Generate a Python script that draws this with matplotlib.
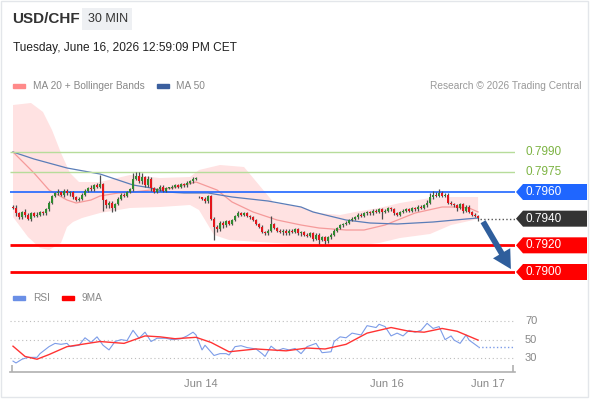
import numpy as np
import matplotlib.pyplot as plt
import matplotlib.transforms as mtransforms
from matplotlib.patches import Polygon, Rectangle

plt.rcParams['font.family'] = ['Liberation Sans', 'DejaVu Sans']

# prices are kept in pips above BASE
BASE = 0.7900
PIP = 0.0001

# 30 min candles, close of each bar (pips), open = previous close
first_open = 49
closes = [48,
          44, 41, 45, 43, 40, 44, 42,
          43, 45, 44, 47,
          52, 57,
          59, 60, 58, 61, 59, 60,
          56, 54, 55,
          58, 61,
          63, 62, 65, 64, 66,
          54, 50, 52, 48, 51,
          55, 58, 57, 60, 62,
          70, 72, 68, 71, 65, 70, 63,
          60, 62, 64, 61, 63,
          63, 64, 65, 64, 66, 65, 67, 68, 70, 70.5,
          56, 55, 53,
          57, 40,
          34, 32, 37,
          35, 38, 36, 39,
          42, 44, 43, 44, 42, 41, 39,
          36, 34, 30, 29,
          31, 36, 33, 31,
          30, 31, 29, 31, 30, 32, 29, 30, 28,
          27, 29, 25, 28, 24, 26, 23, 26,
          28, 31, 33, 35, 36,
          37, 39, 40, 41, 43, 42, 44, 45, 44,
          46, 45, 47, 45, 46,
          48, 47,
          44, 43, 45,
          46, 47, 46, 48, 47, 49, 48, 50, 52,
          56, 58, 57, 59, 57, 58,
          52, 51,
          50, 48, 51, 46, 49,
          45, 43, 42,
          40.5]
# weekend gap: the sunday bar opens away from friday's close
gap_opens = {62: 56.5}
wick_up = [1, 2, 1, 1, 2, 1, 1, 1, 2, 1, 1, 1,
           1, 1, 1, 2, 1, 1, 1, 1, 1, 1, 1, 1, 1,
           1, 2, 1, 2, 7, 1, 1, 1, 1, 1, 1, 1, 1, 1, 1,
           4, 3, 3, 3, 1, 2, 1, 1, 1, 1, 1, 1,
           1, 1, 1, 1, 1, 1, 1, 1, 1, 1,
           0.5, 0.5, 1, 1, 1,
           1, 1, 1, 1, 1, 1, 1, 1, 2, 1, 1, 1, 1, 1,
           1, 1, 1, 1, 1, 6, 1, 1, 1, 1, 1, 1, 1, 1, 1, 1, 1,
           1, 1, 1, 1, 1, 1, 1, 1, 1, 1, 1, 1, 1,
           1, 1, 1, 1, 1, 1, 1, 1, 1, 1, 1, 1, 1, 1, 1, 1, 1, 1, 1,
           1, 1, 1, 1, 1, 1, 1, 1, 2, 3, 3, 2, 3, 2, 1, 1, 1,
           1, 1, 1, 1, 1, 1, 1, 1, 1]
wick_dn = [1, 2, 1, 1, 2, 1, 2, 1, 1, 1, 1, 1,
           1, 1, 1, 1, 1, 2, 1, 2, 1, 1, 1, 1, 1,
           1, 1, 1, 1, 1, 8, 2, 2, 3, 2, 1, 1, 1, 1, 1,
           1, 1, 1, 2, 1, 1, 2, 1, 1, 1, 1, 1,
           1, 1, 1, 1, 1, 1, 1, 1, 1, 1,
           0.5, 1, 1, 1, 1,
           10, 2, 1, 2, 1, 1, 1, 1, 1, 1, 1, 1, 1, 1,
           1, 1, 1, 1, 1, 1, 1, 1, 1, 2, 1, 1, 1, 1, 1, 2, 1,
           1, 1, 2, 1, 3, 1, 2, 1, 1, 1, 1, 1, 1,
           1, 1, 1, 1, 1, 1, 1, 1, 1, 1, 1, 1, 5, 1, 1, 1, 1, 1, 1,
           1, 1, 1, 1, 1, 1, 1, 1, 1, 1, 1, 1, 1, 1, 1, 1, 1,
           1, 2, 1, 2, 1, 1, 1, 1, 2]

# indicators (bar index, pips)
ma20_idx = [0, 7, 12, 18, 21, 26, 29, 35, 40, 46, 53, 61, 68, 73, 80, 88, 96, 102, 111, 117, 124, 134, 143, 147, 152, 155]
ma20 = [90, 74.25, 61.5, 54, 51.75, 54, 57, 59.25, 60, 61.5, 63, 67.5, 61.5, 52.5, 45, 39, 35.25, 33, 31.5, 31.5, 35.25, 44.25, 48.75, 48.75, 48, 45]
ma50_idx = [0, 7, 18, 29, 35, 40, 46, 51, 57, 65, 73, 85, 96, 100, 111, 119, 128, 140, 151, 155]
ma50 = [90, 84.75, 78, 73.5, 69, 65.25, 63, 60, 59.25, 59.25, 56.25, 53.25, 48.75, 45, 39, 36.75, 36, 37.5, 39.75, 40.5]
bb_up_idx = [0, 6, 10, 13, 16, 19, 22, 29, 39, 49, 59, 62, 69, 77, 82, 87, 96, 102, 109, 114, 122, 129, 139, 146, 155]
bb_up = [125.25, 126.75, 120, 106.5, 89.25, 74.25, 67.5, 67.5, 72.75, 70.5, 71.25, 76.5, 80.25, 78.75, 65.25, 51.75, 48.75, 44.25, 42.75, 45, 48, 51.75, 55.5, 56.25, 56.25]
bb_lo_idx = [0, 5, 9, 12, 16, 18, 20, 23, 29, 39, 49, 59, 62, 67, 72, 82, 96, 106, 116, 122, 129, 139, 146, 155]
bb_lo = [41.25, 26.25, 18, 16.5, 21.75, 33.75, 37.5, 40.5, 44.25, 48, 48.75, 50.25, 46.5, 27.75, 24, 22.5, 20.5, 19, 20.25, 21.75, 25.5, 28.5, 35.25, 39.75]

rsi_idx = [0, 1, 3, 5, 8, 9, 12, 14, 16, 18, 19, 22, 24, 26, 28, 30, 32, 34, 36, 38,
           40, 42, 44, 46, 48, 51, 53, 56, 58, 60, 61, 63, 64, 67, 69, 71, 72, 74, 76, 78,
           81, 83, 84, 86, 88, 90, 92, 94, 96, 98, 101, 103, 106, 107, 109, 111, 113, 116, 118, 121,
           122, 124, 126, 128, 130, 132, 134, 136, 138, 140, 142, 144, 146, 147, 149, 151, 152, 155]
rsi = [27, 25, 29, 31, 31, 35, 42.5, 46, 45, 46, 42.5, 44, 52, 47, 53, 44, 39, 48, 50, 49,
       60, 51.5, 58, 48, 51.5, 51.5, 50, 51, 54, 58, 55, 39, 44, 33, 35, 35, 33.5, 42.5, 43.5, 41.5,
       40, 35, 32, 43, 38, 40.5, 39, 40.5, 35, 42.5, 46, 36, 37, 48, 53, 52, 57, 55, 65, 63,
       66.5, 64, 54, 57, 54, 60, 58, 60, 67.5, 62, 64, 50, 54, 49.5, 46, 55, 49.5, 42.5]
ma9_idx = [0, 4, 8, 12, 18, 23, 29, 37, 44, 49, 54, 61, 66, 72, 81, 91, 98, 104, 111, 118, 126, 132, 137, 143, 148, 155]
ma9 = [43, 32, 29, 34, 42.5, 45, 48, 46, 54, 53, 51, 52.5, 47, 37, 40, 38, 41, 40, 45, 57, 63, 59, 58, 62, 59, 49.5]
rsi_levels = [70, 50, 30]

levels = [0.7990, 0.7975, 0.7960, 0.7940, 0.7920, 0.7900]
level_roles = ['res', 'res', 'pivot', 'last', 'sup', 'sup']
target = 0.7900

tick_pos = [62.7, 124.7, 158.3]
tick_labels = ['Jun 14', 'Jun 16', 'Jun 17']

GREEN = '#2f8a2f'
RED = '#e3161b'
role_style = {
    'res': dict(color='#b7dc9a', lw=1.0, ls='-', text='#7cb342', box=None),
    'pivot': dict(color='#1f66ff', lw=1.2, ls='-', text='white', box='#1f66ff'),
    'last': dict(color='#555555', lw=1.0, ls=':', text='white', box='#333333'),
    'sup': dict(color='#ff0000', lw=2.0, ls='-', text='white', box='#ff0000'),
}

W, H = 590, 400


def fx(px):
    return px / W


def fy(py):
    return 1 - py / H


fig = plt.figure(figsize=(W / 100, H / 100), dpi=100)
fig.patches.append(Rectangle((fx(1), fy(397)), fx(587), 396 / H, transform=fig.transFigure,
                             facecolor='white', edgecolor='#e3e6ea', lw=1, zorder=-5))

# header
fig.text(fx(12), fy(19), 'USD/CHF', fontsize=11, weight='bold', color='#333333', va='center')
fig.patches.append(Rectangle((fx(82), fy(30)), fx(50), 22 / H, transform=fig.transFigure,
                             facecolor='#eef0f3', edgecolor='none'))
fig.text(fx(88), fy(19), '30 MIN', fontsize=9, color='#333333', va='center')
fig.text(fx(13), fy(48), 'Tuesday, June 16, 2026 12:59:09 PM CET', fontsize=8.6, color='#222222', va='center')

# legends
fig.patches.append(Rectangle((fx(13), fy(88)), fx(12), 4 / H, transform=fig.transFigure, color='#ff8a8a'))
fig.text(fx(33), fy(86), 'MA 20 + Bollinger Bands', fontsize=7.3, color='#888888', va='center')
fig.patches.append(Rectangle((fx(157), fy(88)), fx(12), 4 / H, transform=fig.transFigure, color='#3b5f9e'))
fig.text(fx(176), fy(86), 'MA 50', fontsize=7.3, color='#888888', va='center')
fig.text(fx(581), fy(86), 'Research \u00a9 2026 Trading Central', fontsize=7.3, color='#999999',
         va='center', ha='right')
fig.patches.append(Rectangle((fx(13), fy(300)), fx(12), 4 / H, transform=fig.transFigure, color='#6a8fe6'))
fig.text(fx(33), fy(298), 'RSI', fontsize=7.3, color='#888888', va='center')
fig.patches.append(Rectangle((fx(62), fy(300)), fx(12), 4 / H, transform=fig.transFigure, color='#ff0000'))
fig.text(fx(82), fy(298), '9MA', fontsize=7.3, color='#888888', va='center')

# ---- price panel
ax = fig.add_axes([fx(10), fy(285), fx(505), 190 / H])
xmax = 167.3
ax.set_xlim(-1, xmax)
ax.set_ylim(BASE - 9.75 * PIP, BASE + 132.75 * PIP)
ax.axis('off')


def px_price(p):
    return BASE + np.asarray(p, dtype=float) * PIP


ax.fill(np.r_[bb_up_idx, bb_lo_idx[::-1]], px_price(np.r_[bb_up, bb_lo[::-1]]),
        color='#ffe2e2', lw=0, zorder=1)
ax.plot(ma20_idx, px_price(ma20), color='#f59a9a', lw=0.9, zorder=2)
ax.plot(ma50_idx, px_price(ma50), color='#5a7db8', lw=0.9, zorder=2)

n = len(closes)
idx = np.arange(n)
c = np.array(closes, dtype=float)
o = np.r_[first_open, c[:-1]]
for k, v in gap_opens.items():
    o[k] = v
hi = np.maximum(o, c) + np.array(wick_up)
lo = np.minimum(o, c) - np.array(wick_dn)
body_lo = np.minimum(o, c)
body_h = np.maximum(np.abs(c - o), 0.6)
colors = np.where(c >= o, GREEN, RED)
ax.vlines(idx, px_price(lo), px_price(hi), color='#4d4d4d', lw=0.9, zorder=4)
ax.bar(idx, body_h * PIP, bottom=px_price(body_lo), width=0.85, color=colors, lw=0, zorder=5)

trans = mtransforms.blended_transform_factory(fig.transFigure, ax.transData)
half = 8 * (ax.get_ylim()[1] - ax.get_ylim()[0]) / 190
for lev, role in zip(levels, level_roles):
    st = role_style[role]
    x0 = n - 0.5 if role == 'last' else -1
    ax.hlines(lev, x0, xmax, color=st['color'], lw=st['lw'], linestyles=st['ls'], zorder=3)
    if st['box']:
        ax.add_patch(Polygon([(fx(516), lev), (fx(523), lev + half), (fx(587), lev + half),
                              (fx(587), lev - half), (fx(523), lev - half)],
                             closed=True, transform=trans, clip_on=False,
                             facecolor=st['box'], edgecolor='none', zorder=6))
    ax.text(fx(525), lev, f'{lev:.4f}', transform=trans, color=st['text'], fontsize=8.5,
            va='center', ha='left', zorder=7, clip_on=False)

ax.annotate('', xy=(166.4, target + 0.4 * PIP), xytext=(n + 0.2, px_price(c[-1]) - 1.0 * PIP),
            arrowprops=dict(arrowstyle='simple,head_length=1.1,head_width=1.2,tail_width=0.35',
                            mutation_scale=12, color='#2f5e9c', lw=0), zorder=8,
            annotation_clip=False)

# ---- RSI panel
ax2 = fig.add_axes([fx(10), fy(372), fx(505), 62 / H])
ax2.set_xlim(-1, xmax)
ax2.set_ylim(15.3, 81.8)
for s in ['top', 'left', 'right']:
    ax2.spines[s].set_visible(False)
ax2.spines['bottom'].set_color('#b0b0b0')
ax2.spines['bottom'].set_linewidth(1.2)
ax2.set_yticks([])
rsi_trans = mtransforms.blended_transform_factory(fig.transFigure, ax2.transData)
for lv in rsi_levels:
    ax2.axhline(lv, color='#bdbdbd', lw=0.8, ls=(0, (1, 2.5)), zorder=1)
    ax2.text(fx(525), lv, str(lv), transform=rsi_trans, fontsize=8, color='#888888',
             va='center', ha='left')
ax2.plot(rsi_idx, rsi, color='#7c9ce8', lw=0.8, zorder=3)
ax2.hlines(rsi[-1], rsi_idx[-1], xmax - 0.7, color='#7c9ce8', lw=1.0, linestyles=':', zorder=3)
ax2.plot(ma9_idx, ma9, color='#ff3333', lw=1.0, zorder=4)
ax2.set_xticks(tick_pos, tick_labels)
ax2.tick_params(axis='x', length=0, pad=5, labelsize=8, labelcolor='#888888')
ax2.set_xticks([-0.3, xmax - 0.6], minor=True)
ax2.tick_params(axis='x', which='minor', direction='in', length=5, width=1.2, color='#b0b0b0')

fig.savefig('out.png', dpi=100)
